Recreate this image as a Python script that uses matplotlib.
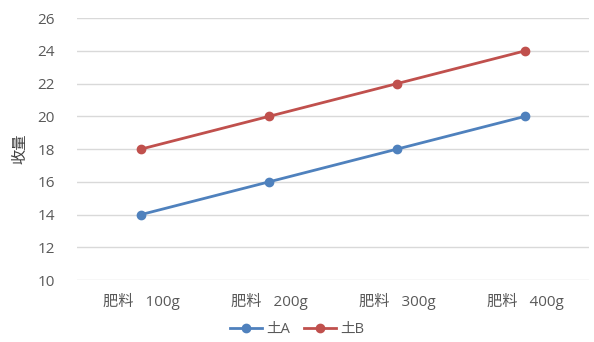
import matplotlib
matplotlib.use("Agg")
import matplotlib.pyplot as plt

plt.rcParams['font.family'] = ['Open Sans', 'Noto Sans CJK JP', 'DejaVu Sans']

categories = ["肥料   100g", "肥料   200g", "肥料   300g", "肥料   400g"]
soil_a = [14, 16, 18, 20]
soil_b = [18, 20, 22, 24]
series_names = ["土A", "土B"]
y_ticks = [10, 12, 14, 16, 18, 20, 22, 24, 26]

fig = plt.figure(figsize=(5.94, 3.42), dpi=100)
ax = fig.add_axes([0.1296, 0.181, 0.8620, 0.766])

x = range(len(categories))
ax.plot(x, soil_a, color="#4F81BD", lw=2.0, marker="o", ms=6, label=series_names[0], zorder=3)
ax.plot(x, soil_b, color="#C0504D", lw=2.0, marker="o", ms=6, label=series_names[1], zorder=3)

ax.set_xlim(-0.5, len(categories) - 0.5)
ax.set_ylim(10, 26)
ax.set_yticks(y_ticks)
ax.set_xticks(list(x))
ax.set_xticklabels(categories)
ax.grid(axis="y", color="#D9D9D9", lw=1)
ax.set_axisbelow(True)
for s in ax.spines.values():
    s.set_visible(False)
ax.tick_params(length=0, colors="#595959", labelsize=11)
ax.tick_params(axis="x", pad=9)
ax.tick_params(axis="y", pad=16)
ax.set_ylabel("收量", fontsize=11, color="#404040", labelpad=6)

ax.legend(loc="upper center", bbox_to_anchor=(0.43, -0.148), ncol=2, frameon=False,
          fontsize=10.5, labelcolor="#595959", handlelength=2.2, columnspacing=0.9,
          handletextpad=0.3, borderaxespad=0, borderpad=0.2)

fig.savefig("out.png", dpi=100, facecolor="white")
